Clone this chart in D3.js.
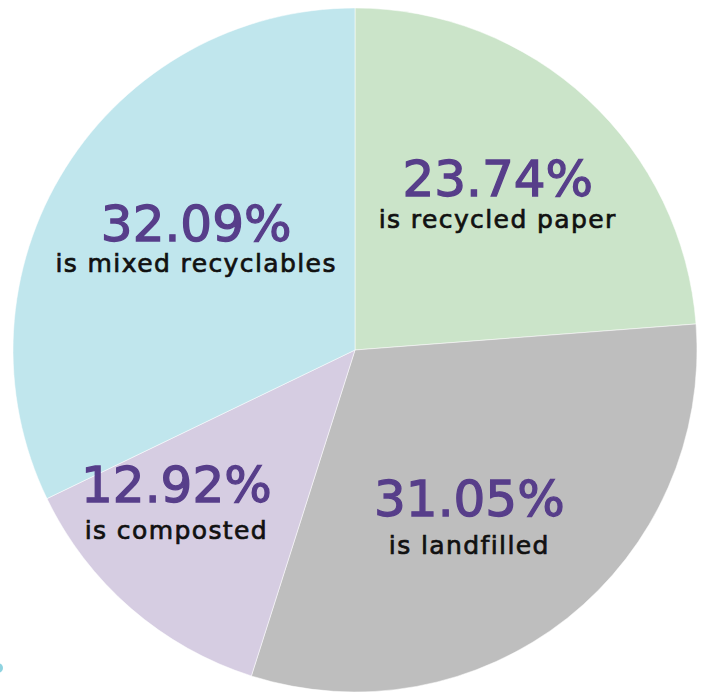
<!DOCTYPE html>
<html>
<head>
<meta charset="utf-8">
<script src="https://cdn.jsdelivr.net/npm/d3@7"></script>
<style>
  html, body { margin: 0; padding: 0; background: #fff; }
  svg { display: block; }
</style>
</head>
<body>
<svg width="707" height="692"></svg>
<script>
// data (clockwise from 12 o'clock)
const categories = ['recycled paper', 'landfilled', 'composted', 'mixed recyclables']
const shares = [23.74, 31.05, 12.92, 32.09]
const captions = ['is recycled paper', 'is landfilled', 'is composted', 'is mixed recyclables']
const sliceColors = ['#cbe4c9', '#bebebe', '#d6cde2', '#c0e6ed']

// small hand nudges from the centroid so labels sit where the original has them
const labelNudge = [[0, 0, 32], [-16, 1, 38], [-41, -7, 37], [19, 3, 31]]

const width = 707, height = 692
const cx = 355, cy = 350, R = 342

const svg = d3.select('svg')
const g = svg.append('g').attr('transform', `translate(${cx},${cy})`)

const pie = d3.pie().sort(null).value(d => d.value)
const arc = d3.arc().innerRadius(0).outerRadius(R)
const labelArc = d3.arc().innerRadius(210).outerRadius(210)

const rows = categories.map((c, i) => ({name: c, value: shares[i], caption: captions[i], i: i}))
const arcs = pie(rows)

g.selectAll('path.slice')
    .data(arcs)
    .enter()
    .append('path')
    .attr('class', 'slice')
    .attr('d', arc)
    .style('fill', d => sliceColors[d.data.i])
    .style('stroke', '#ffffff')
    .style('stroke-opacity', 0.5)
    .style('stroke-width', 1)

const labels = g.selectAll('g.label')
    .data(arcs)
    .enter()
    .append('g')
    .attr('class', 'label')
    .attr('transform', d => {
        const [x, y] = labelArc.centroid(d)
        const n = labelNudge[d.data.i]
        return `translate(${x + n[0]},${y + n[1]})`
    })

// the original type is a medium-weight geometric sans, thicken DejaVu a bit
labels.append('text')
    .attr('text-anchor', 'middle')
    .style('font-family', '"DejaVu Sans", sans-serif')
    .style('font-size', '50px')
    .style('fill', '#573e8a')
    .style('stroke', '#573e8a')
    .style('stroke-width', 1.3)
    .text(d => d.data.value.toFixed(2) + '%')

labels.append('text')
    .attr('text-anchor', 'middle')
    .attr('y', d => labelNudge[d.data.i][2])
    .style('font-family', '"DejaVu Sans", sans-serif')
    .style('font-size', '25px')
    .style('letter-spacing', '1.4px')
    .style('fill', '#111111')
    .style('stroke', '#111111')
    .style('stroke-width', 0.7)
    .text(d => d.data.caption)

// little teal mark cut off at the lower left edge
svg.append('circle')
    .attr('cx', -2)
    .attr('cy', 668)
    .attr('r', 5)
    .style('fill', '#8fd3e0')
</script>
</body>
</html>
